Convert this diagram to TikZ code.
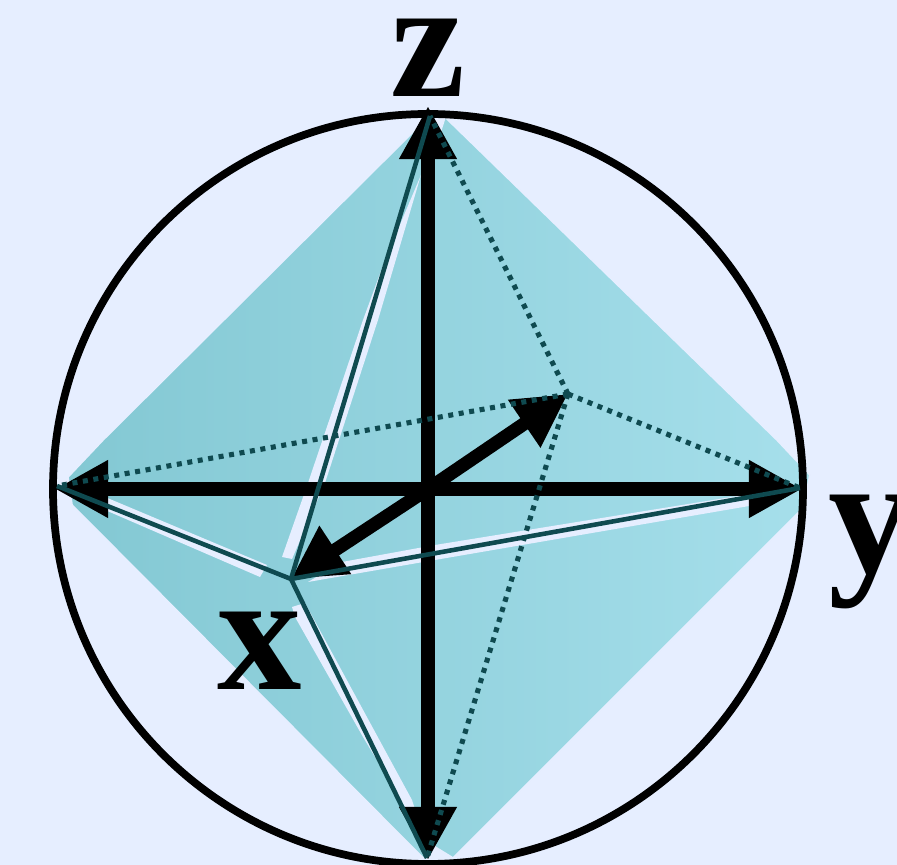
\documentclass[tikz,border=0pt]{standalone}
\usepackage{fontspec}
\setmainfont{Liberation Serif}
\usetikzlibrary{arrows.meta, calc}
\definecolor{bgblue}{HTML}{E6EEFF}
\definecolor{tealdark}{HTML}{83C8D3}
\definecolor{teallight}{HTML}{A6DFEB}
\definecolor{edgeteal}{HTML}{0F4A50}
\tikzset{
  axisline/.style={line width=3.8pt,-{Triangle[length=0.53cm,width=0.54cm]}},
  edgeline/.style={edgeteal, line width=1.3pt},
  dotline/.style={edgeteal, line width=1.45pt, dash pattern=on 0.05cm off 0.056cm},
  gapfill/.style={fill=bgblue, draw=none},
  axislabel/.style={font=\fontsize{48}{48}\selectfont\bfseries, inner sep=0pt}
}
\begin{document}
\begin{tikzpicture}[x=0.01cm,y=-0.01cm]
\useasboundingbox[fill=bgblue] (0,0) rectangle (897,865);
% faces
\path[draw=bgblue, line width=0.5pt, left color=tealdark, right color=teallight] (420,125) -- (428,170) -- (445,117) -- (777,440) -- (810,475) -- (803,508) -- (453,858) -- (435,847) -- (428,800) -- (425,860) -- (72,505) -- (68,477) -- (103,440) -- cycle;
% gaps
\fill[gapfill] (282,557) -- (292,559) -- (325,483) -- (378,320) -- (421,175) -- (385,260) -- (363,320) -- (308,483) -- cycle;
\fill[gapfill] (105,497) -- (267,565) -- (260,577) -- (105,510) -- cycle;
\fill[gapfill] (342,562) -- (435,545) -- (750,494) -- (755,505) -- (435,560) -- (308,582) -- cycle;
\fill[gapfill] (292,607) -- (305,603) -- (412,800) -- (425,840) -- (363,737) -- (295,617) -- cycle;
% circle
\coordinate (o) at (428,489);
\draw[line width=2.2pt] (o) circle (375);
% axes
\coordinate (ztip) at (428,106);
\coordinate (ybot) at (428,860);
\coordinate (ytip) at (802,489);
\coordinate (ltip) at (55,489);
\coordinate (xtip) at (291,579);
\coordinate (back) at (568,394);
\draw[axisline] (o) -- (ztip);
\draw[axisline] (o) -- (ybot);
\draw[axisline] (o) -- (ytip);
\draw[axisline] (o) -- (ltip);
\draw[axisline] (o) -- (xtip);
\draw[axisline] (o) -- (back);
% edges
\coordinate (vtop) at (430,116);
\coordinate (vbot) at (427,858);
\coordinate (vl) at (57,486);
\coordinate (vr) at (800,488);
\draw[edgeline] (xtip) -- (vtop);
\draw[edgeline] (xtip) -- (vbot);
\draw[edgeline] (xtip) -- (vl);
\draw[edgeline] (xtip) -- (vr);
\draw[dotline] (back) -- (vtop);
\draw[dotline] (back) -- (vbot);
\draw[dotline] (back) -- (vl);
\draw[dotline] (back) -- (vr);
% labels
\node[axislabel] (zlab) at (428,58) {z};
\node[axislabel, anchor=west] (ylab) at (828,552) {y};
\node[axislabel] (xlab) at (260,651) {x};
\end{tikzpicture}
\end{document}
